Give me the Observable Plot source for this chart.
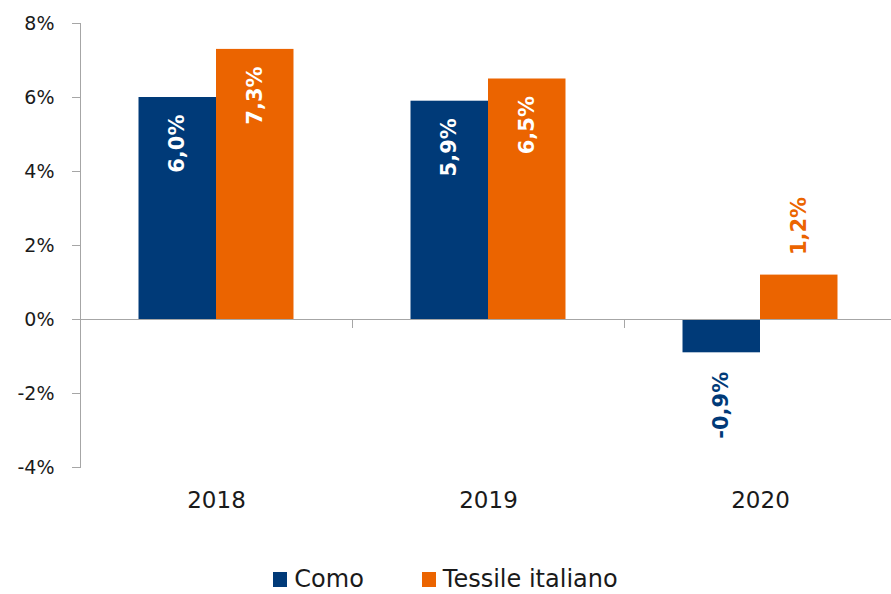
<!DOCTYPE html>
<html>
<head>
<meta charset="utf-8">
<script src="https://cdn.jsdelivr.net/npm/d3@7"></script>
<script src="https://cdn.jsdelivr.net/npm/@observablehq/plot@0.6"></script>
<style>
  html, body { margin: 0; padding: 0; background: #fff; overflow: hidden; }
  #chart svg { display: block; overflow: visible; }
  #legend { display: flex; justify-content: center; align-items: center; gap: 58px;
            font-family: "DejaVu Sans", sans-serif; font-size: 24px; line-height: 28px; color: #1a1a1a;
            height: 28px; margin-top: 3px; }
  #legend .item { display: flex; align-items: center; gap: 7px; }
  #legend .sw { width: 14px; height: 15px; display: inline-block; }
</style>
</head>
<body>
<div id="chart"></div>
<div id="legend"></div>
<script>
// ---- data ----
const years = ["2018", "2019", "2020"];
const series = ["Como", "Tessile italiano"];
const como = [6.0, 5.9, -0.9];
const tessile = [7.3, 6.5, 1.2];
const colors = ["#003a78", "#eb6400"];
const yTicks = [-4, -2, 0, 2, 4, 6, 8];

const data = [];
years.forEach((yr, i) => {
  data.push({year: yr, series: series[0], value: como[i]});
  data.push({year: yr, series: series[1], value: tessile[i]});
});
const colorOf = Object.fromEntries(series.map((s, i) => [s, colors[i]]));
const fmt = v => v.toFixed(1).replace(".", ",") + "%";

// ---- layout ----
const W = 891, H = 562, mT = 23, mB = 95, mL = 80, mR = -5;
const yScale = Plot.scale({y: {domain: [-4, 8], range: [H - mB, mT]}});
const y0 = yScale.apply(0);
const grey = "#a6a6a6";
const inside = d => Math.abs(d.value) >= 3;

const labelFont = {fontFamily: "'DejaVu Sans', sans-serif", fontWeight: 700, fontSize: 21};

const marks = [
  Plot.barY(data, {fx: "year", x: "series", y: "value", fill: "series"}),
  Plot.ruleY([0], {stroke: grey, strokeWidth: 1.2}),
  Plot.frame({anchor: "left", facetAnchor: "left", stroke: grey}),
  Plot.frame({anchor: "left", stroke: grey, insetTop: y0 - mT, insetBottom: (H - mB) - (y0 + 8)}),
  Plot.axisY({ticks: yTicks, tickFormat: d => d + "%", tickSize: 8, tickPadding: 18,
              stroke: grey, fill: "#1a1a1a", fontSize: 19, label: null}),
  Plot.axisFx({anchor: "bottom", tickSize: 0, tickPadding: 24, fontSize: 23, fill: "#1a1a1a", label: null}),
  // labels inside the bars
  Plot.text(data.filter(inside), {fx: "year", x: "series", y: "value", text: d => fmt(d.value),
    rotate: -90, textAnchor: "end", lineAnchor: "middle", dy: 17, fill: "white", ...labelFont})
];
series.forEach(s => {
  const pos = data.filter(d => d.series === s && !inside(d) && d.value >= 0);
  const neg = data.filter(d => d.series === s && !inside(d) && d.value < 0);
  marks.push(Plot.text(pos, {fx: "year", x: "series", y: "value", text: d => fmt(d.value),
    rotate: -90, textAnchor: "start", lineAnchor: "middle", dy: -20, fill: colorOf[s], ...labelFont}));
  marks.push(Plot.text(neg, {fx: "year", x: "series", y: "value", text: d => fmt(d.value),
    rotate: -90, textAnchor: "end", lineAnchor: "middle", dy: 19, fill: colorOf[s], ...labelFont}));
});

const chart = Plot.plot({
  width: W, height: H,
  marginTop: mT, marginBottom: mB, marginLeft: mL, marginRight: mR,
  style: {fontFamily: "'DejaVu Sans', sans-serif", background: "#fff", overflow: "visible"},
  fx: {domain: years, padding: 0, label: null},
  x: {domain: series, axis: null, paddingInner: 0, paddingOuter: 0.755, round: false},
  y: {domain: [-4, 8], axis: null},
  color: {domain: series, range: colors},
  marks
});
document.getElementById("chart").appendChild(chart);

// ---- legend ----
const leg = document.getElementById("legend");
series.forEach((s, i) => {
  const item = document.createElement("span");
  item.className = "item";
  const sw = document.createElement("span");
  sw.className = "sw";
  sw.style.background = colors[i];
  const t = document.createElement("span");
  t.textContent = s;
  item.appendChild(sw);
  item.appendChild(t);
  leg.appendChild(item);
});
</script>
</body>
</html>
